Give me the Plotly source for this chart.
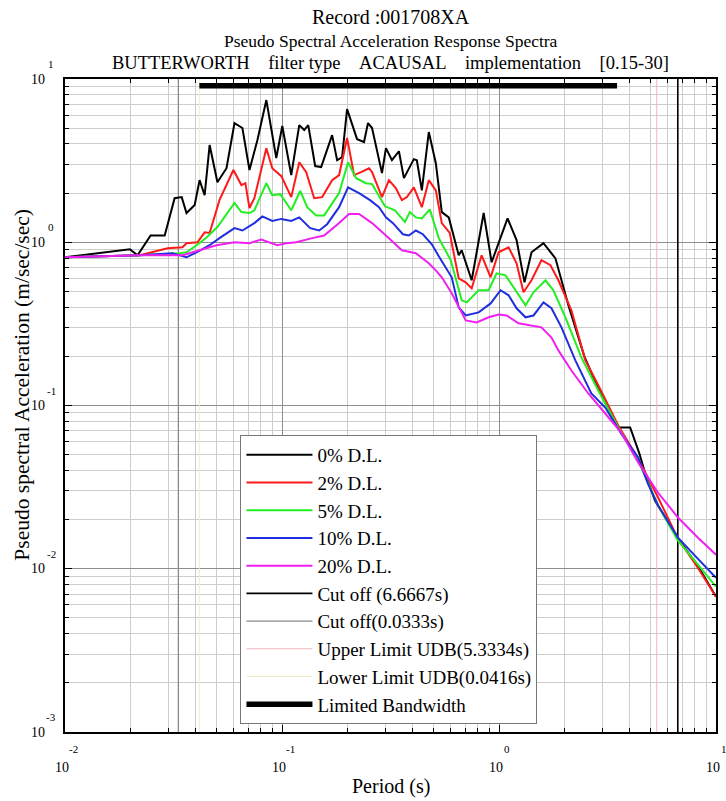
import plotly.graph_objects as go

# ---------------- data ----------------
T_0 = [0.0100, 0.0199, 0.0216, 0.0248, 0.0288, 0.0320, 0.0345, 0.0363, 0.0396, 0.0417,
       0.0440, 0.0464, 0.0504, 0.0555, 0.0604, 0.0657, 0.0708, 0.0770, 0.0847, 0.0941,
       0.1003, 0.1103, 0.1201, 0.1266, 0.1321, 0.1422, 0.1515, 0.1702, 0.1795, 0.1892,
       0.1995, 0.2218, 0.2388, 0.2491, 0.2600, 0.2889, 0.3013, 0.3211, 0.3458, 0.3646,
       0.4052, 0.4182, 0.4410, 0.4748, 0.5115, 0.5449, 0.5867, 0.6522, 0.6732, 0.7484,
       0.8498, 0.9248, 1.095, 1.205, 1.311, 1.412, 1.603, 1.820, 2.088, 2.473,
       2.868, 3.543, 4.022, 4.42, 4.72, 5.24, 6.68, 8.26, 10.0]
SA_0 = [0.809, 0.906, 0.832, 1.10, 1.10, 1.86, 1.89, 1.51, 1.69, 2.40,
        1.94, 3.94, 2.33, 2.84, 5.37, 5.01, 2.77, 4.22, 7.43, 3.28,
        5.15, 2.58, 5.22, 4.87, 5.22, 2.93, 2.89, 4.53, 3.18, 3.32,
        6.54, 4.28, 4.11, 5.37, 5.01, 2.65, 3.77, 3.18, 3.61, 2.47,
        3.23, 3.18, 2.08, 4.73, 3.05, 1.53, 1.42, 0.832, 0.893, 0.585,
        1.51, 0.754, 1.40, 1.03, 0.568, 0.868, 0.987, 0.797, 0.411, 0.200,
        0.127, 0.0733, 0.0733, 0.0515, 0.0383, 0.0261, 0.0153, 0.0104, 0.00673]

T_2 = [0.0100, 0.0221, 0.0297, 0.0348, 0.0363, 0.0408, 0.0440, 0.0464, 0.0515, 0.0597,
       0.0650, 0.0678, 0.0708, 0.0746, 0.0847, 0.0902, 0.0993, 0.1103, 0.1201, 0.1293,
       0.1407, 0.1532, 0.1702, 0.1833, 0.1995, 0.2148, 0.2313, 0.2518, 0.2600, 0.2889,
       0.3111, 0.3350, 0.3569, 0.3763, 0.4052, 0.4410, 0.4748, 0.5115, 0.5449, 0.5930,
       0.6522, 0.7024, 0.7484, 0.8318, 0.9150, 0.996, 1.107, 1.205, 1.297, 1.412,
       1.569, 1.726, 1.878, 2.156, 2.499, 2.868, 3.543, 4.377, 5.409, 6.68,
       8.26, 10.0]
SA_2 = [0.809, 0.832, 0.919, 0.932, 0.986, 1.00, 1.15, 1.14, 1.81, 2.77,
        2.24, 2.30, 1.62, 1.86, 3.77, 2.84, 2.54, 1.89, 3.09, 2.69,
        1.86, 1.89, 2.40, 2.58, 4.35, 2.58, 2.69, 2.84, 2.69, 1.89,
        2.40, 2.14, 1.81, 1.89, 2.17, 1.64, 2.40, 2.08, 1.31, 1.14,
        0.601, 0.568, 0.522, 0.832, 0.610, 0.868, 0.932, 0.743, 0.494, 0.585,
        0.776, 0.723, 0.585, 0.383, 0.189, 0.133, 0.0754, 0.0473, 0.0273, 0.0153,
        0.0101, 0.00673]

T_5 = [0.0100, 0.0221, 0.0337, 0.0363, 0.0404, 0.0449, 0.0504, 0.0604, 0.0650, 0.0708,
       0.0746, 0.0847, 0.0902, 0.0982, 0.1103, 0.1214, 0.1307, 0.1437, 0.1564, 0.1702,
       0.1833, 0.2016, 0.2195, 0.2438, 0.2600, 0.2982, 0.3315, 0.3685, 0.3884, 0.4139,
       0.4410, 0.4799, 0.5279, 0.5993, 0.6732, 0.7099, 0.8057, 0.8958, 0.9750, 1.072,
       1.192, 1.325, 1.442, 1.637, 1.781, 2.023, 2.396, 2.868, 3.543, 4.377,
       5.409, 6.68, 8.26, 10.0]
SA_5 = [0.809, 0.832, 0.856, 0.868, 0.959, 1.07, 1.24, 1.74, 1.53, 1.51,
        1.57, 2.30, 1.94, 1.97, 1.57, 2.06, 1.64, 1.46, 1.46, 1.71,
        2.00, 3.09, 2.47, 2.30, 2.27, 1.66, 1.57, 1.33, 1.53, 1.42,
        1.40, 1.59, 1.06, 0.776, 0.441, 0.428, 0.508, 0.508, 0.645, 0.627,
        0.508, 0.411, 0.494, 0.585, 0.508, 0.347, 0.197, 0.1236, 0.0733, 0.0460,
        0.0244, 0.01485, 0.0106, 0.00776]

T_10 = [0.0100, 0.0221, 0.0313, 0.0363, 0.0404, 0.0464, 0.0515, 0.0604, 0.0657, 0.0746,
        0.0812, 0.0902, 0.0993, 0.1103, 0.1201, 0.1349, 0.1484, 0.1614, 0.1833, 0.2016,
        0.2265, 0.2545, 0.2799, 0.3013, 0.3246, 0.3607, 0.3843, 0.4139, 0.4458, 0.4902,
        0.5279, 0.5684, 0.6056, 0.6522, 0.7024, 0.8057, 0.9150, 1.017, 1.107, 1.205,
        1.325, 1.442, 1.603, 1.745, 1.940, 2.248, 2.664, 3.088, 3.658, 4.377,
        4.866, 5.409, 6.68, 8.26, 10.0]
SA_10 = [0.809, 0.832, 0.856, 0.809, 0.868, 0.959, 1.06, 1.22, 1.18, 1.31,
         1.44, 1.35, 1.39, 1.35, 1.42, 1.22, 1.18, 1.29, 1.64, 2.17,
         2.00, 1.81, 1.64, 1.42, 1.31, 1.12, 1.10, 1.18, 1.12, 0.972,
         0.821, 0.703, 0.610, 0.399, 0.356, 0.372, 0.422, 0.508, 0.473, 0.394,
         0.347, 0.356, 0.428, 0.394, 0.301, 0.189, 0.1185, 0.0972, 0.0673, 0.0480,
         0.0330, 0.0244, 0.0155, 0.0115, 0.00881]

T_20 = [0.0100, 0.0221, 0.0348, 0.0417, 0.0499, 0.0604, 0.0708, 0.0803, 0.0951, 0.1047,
        0.1163, 0.1378, 0.1564, 0.1833, 0.2038, 0.2265, 0.2600, 0.3013, 0.3569, 0.4139,
        0.4748, 0.5115, 0.5449, 0.6056, 0.7024, 0.7892, 0.8958, 0.996, 1.084, 1.230,
        1.368, 1.569, 1.745, 1.878, 2.156, 2.580, 3.088, 3.658, 4.377, 5.409,
        6.68, 8.26, 10.0]
SA_20 = [0.809, 0.832, 0.832, 0.893, 0.959, 1.00, 0.986, 1.04, 0.959, 0.986,
         1.00, 1.06, 1.10, 1.31, 1.49, 1.49, 1.31, 1.10, 0.893, 0.857,
         0.743, 0.673, 0.610, 0.487, 0.332, 0.323, 0.347, 0.361, 0.356, 0.319,
         0.310, 0.301, 0.261, 0.2175, 0.1639, 0.1185, 0.0893, 0.0683, 0.0447, 0.0292,
         0.0206, 0.0155, 0.0122]

SERIES_NAMES = ["0% D.L.", "2% D.L.", "5% D.L.", "10% D.L.", "20% D.L."]
SERIES_COLORS = ["#000000", "#ff1a1a", "#22ee22", "#1f2fe0", "#f020f0"]

CUT_HIGH = 6.6667      # s
CUT_LOW = 0.0333       # s
UDB_UPPER = 5.3334     # s
UDB_LOWER = 0.0416     # s
BAND_T = [0.0416, 3.5] # s
BAND_SA = 9.1
Y_RANGE = [0.001, 10]

X_EXP = [-2, -1, 0, 1]
Y_EXP = [-3, -2, -1, 0, 1]

GAP = "\u00a0" * 4
TITLE_LINES = ["Record :001708XA",
               "Pseudo Spectral Acceleration Response Spectra",
               "BUTTERWORTH" + GAP + "filter type" + GAP + "ACAUSAL" + GAP +
               "implementation" + GAP + "[0.15-30]"]
TITLE_SIZES = [20, 17.5, 18.5]
TITLE_Y = [1.0949, 1.0582, 1.0245]

FONT = "Liberation Serif"

# ---------------- figure ----------------
fig = go.Figure()

series = [(T_0, SA_0), (T_2, SA_2), (T_5, SA_5), (T_10, SA_10), (T_20, SA_20)]

ref_lines = [
    ("Cut off (6.6667s)", [CUT_HIGH, CUT_HIGH], Y_RANGE, "#000000", 1.6),
    ("Cut off(0.0333s)", [CUT_LOW, CUT_LOW], Y_RANGE, "#8a8a8a", 1.3),
    ("Upper Limit UDB(5.3334s)", [UDB_UPPER, UDB_UPPER], Y_RANGE, "#f2b6bf", 1.0),
    ("Lower Limit UDB(0.0416s)", [UDB_LOWER, UDB_LOWER], Y_RANGE, "#f3ecc6", 1.0),
    ("Limited Bandwidth", BAND_T, [BAND_SA, BAND_SA], "#000000", 5.5),
]
for i, (name, xs, ys, col, w) in enumerate(ref_lines):
    fig.add_trace(go.Scatter(x=xs, y=ys, mode="lines", name=name,
                             line=dict(color=col, width=w),
                             legendgroup=name, legendrank=10 + i,
                             hoverinfo="skip"))

for i, ((T, SA), name, col) in enumerate(zip(series, SERIES_NAMES, SERIES_COLORS)):
    fig.add_trace(go.Scatter(x=T, y=SA, mode="lines", name=name,
                             line=dict(color=col, width=2),
                             legendgroup=name, legendrank=1 + i))

axis_common = dict(
    type="log",
    showline=True, linecolor="black", linewidth=1.6, mirror="allticks",
    ticks="inside", ticklen=7, tickcolor="black", tickwidth=1,
    showgrid=True, gridcolor="#8e8e8e", gridwidth=1,
    showticklabels=False, zeroline=False,
    minor=dict(dtick="D1", showgrid=True, gridcolor="#cdcdcd", gridwidth=1,
               ticks="inside", ticklen=4, tickcolor="black"),
)

fig.update_xaxes(range=[-2, 1], tickmode="array",
                 tickvals=[10.0 ** k for k in X_EXP], **axis_common)
fig.update_yaxes(range=[-3, 1], tickmode="array",
                 tickvals=[10.0 ** k for k in Y_EXP], **axis_common)

ann = []
for line, size, yy in zip(TITLE_LINES, TITLE_SIZES, TITLE_Y):
    ann.append(dict(text=line, xref="paper", yref="paper", x=0.5, y=yy,
                    xanchor="center", yanchor="middle", showarrow=False,
                    font=dict(size=size, family=FONT, color="black")))
for k in X_EXP:
    ann.append(dict(text="10", xref="x", yref="paper", x=k, y=-0.0536,
                    xanchor="center", yanchor="middle", xshift=-3,
                    showarrow=False, font=dict(size=14, family=FONT, color="black")))
    ann.append(dict(text=str(k), xref="x", yref="paper", x=k, y=-0.026,
                    xanchor="center", yanchor="middle", xshift=8,
                    showarrow=False, font=dict(size=11, family=FONT, color="black")))
for k in Y_EXP:
    ann.append(dict(text="10", xref="paper", yref="y", x=0, y=k,
                    xanchor="right", yanchor="middle", xshift=-18,
                    showarrow=False, font=dict(size=14, family=FONT, color="black")))
    ann.append(dict(text=str(k), xref="paper", yref="y", x=0, y=k,
                    xanchor="center", yanchor="middle", xshift=-14, yshift=15,
                    showarrow=False, font=dict(size=11, family=FONT, color="black")))
ann.append(dict(text="Period (s)", xref="paper", yref="paper", x=0.5, y=-0.0842,
                xanchor="center", yanchor="middle", showarrow=False,
                font=dict(size=20, family=FONT, color="black")))
ann.append(dict(text="Pseudo spectral Acceleration (m/sec/sec)", xref="paper",
                yref="paper", x=-0.066, y=0.532, xanchor="center", yanchor="middle",
                textangle=-90, showarrow=False,
                font=dict(size=21.5, family=FONT, color="black")))

fig.update_layout(
    width=726, height=801,
    margin=dict(l=65, r=8, t=79, b=69),
    paper_bgcolor="white", plot_bgcolor="white",
    font=dict(family=FONT, size=17, color="black"),
    showlegend=True,
    legend=dict(x=0.2695, y=0.4548, xanchor="left", yanchor="top",
                bgcolor="white", bordercolor="#777777", borderwidth=1,
                font=dict(size=19, family=FONT, color="black"),
                traceorder="grouped", tracegroupgap=0, itemwidth=66),
    annotations=ann,
)

fig.write_html("out.html")
